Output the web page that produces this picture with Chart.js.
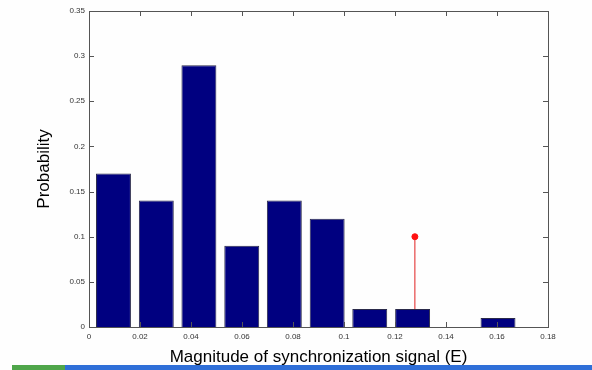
<!DOCTYPE html>
<html>
<head>
<meta charset="utf-8">
<script src="https://cdn.jsdelivr.net/npm/chart.js@4.4.1/dist/chart.umd.min.js"></script>
<style>
  html, body { margin: 0; padding: 0; background: #fefefe; overflow: hidden; }
  #wrap { position: relative; width: 592px; height: 370px; }
  #strip { position: absolute; left: 0; top: 365px; width: 592px; height: 5px; }
  #strip .g { position: absolute; left: 12px; width: 53px; top: 0; height: 5px; background: #4fa64a; }
  #strip .b { position: absolute; left: 65px; right: 0; top: 0; height: 5px; background: #2f6fd8; }
</style>
</head>
<body>
<div id="wrap">
  <canvas id="myChart" width="592" height="370"></canvas>
  <div id="strip"><div class="g"></div><div class="b"></div></div>
</div>
<script>
// histogram bins (centres) and probabilities
const binCenters = [0.0096, 0.0264, 0.0431, 0.0599, 0.0766, 0.0934, 0.1101, 0.1269, 0.1436, 0.1604];
const probabilities = [0.17, 0.14, 0.29, 0.09, 0.14, 0.12, 0.02, 0.02, 0, 0.01];
// red stem marker
const stemX = [0.1278, 0.1278];
const stemY = [0, 0.1];
// tick labels
const xTicks = [0, 0.02, 0.04, 0.06, 0.08, 0.1, 0.12, 0.14, 0.16, 0.18];
const yTicks = [0, 0.05, 0.1, 0.15, 0.2, 0.25, 0.3, 0.35];

// box around the plot with inward ticks, matlab style
const boxPlugin = {
    id: 'box',
    afterDatasetsDraw(chart) {
        let a = chart.chartArea, c = chart.ctx;
        let xs = chart.scales.x, ys = chart.scales.y;
        c.save();
        c.strokeStyle = '#555';
        c.lineWidth = 1;
        c.strokeRect(a.left + 0.5, a.top + 0.5, a.right - a.left, a.bottom - a.top);
        c.beginPath();
        xTicks.forEach(function (v) {
            let p = Math.round(xs.getPixelForValue(v)) + 0.5;
            c.moveTo(p, a.bottom); c.lineTo(p, a.bottom - 5);
            c.moveTo(p, a.top); c.lineTo(p, a.top + 5);
        });
        yTicks.forEach(function (v) {
            let p = Math.round(ys.getPixelForValue(v)) + 0.5;
            c.moveTo(a.left, p); c.lineTo(a.left + 5, p);
            c.moveTo(a.right, p); c.lineTo(a.right - 5, p);
        });
        c.stroke();
        c.restore();
    }
};

let ctx = document.getElementById("myChart");
let myChart = new Chart(ctx, {
    type: 'bar',
    data: {
        datasets: [{
            type: 'bar',
            label: 'Probability',
            data: binCenters.map(function (x, i) { return { x: x, y: probabilities[i] }; }),
            backgroundColor: '#000080',
            borderColor: '#2a2a4a',
            borderWidth: 1,
            categoryPercentage: 1,
            barPercentage: 0.82
        }, {
            type: 'line',
            label: 'E',
            data: stemX.map(function (x, i) { return { x: x, y: stemY[i] }; }),
            borderColor: '#e02020',
            borderWidth: 1,
            pointRadius: [0, 3],
            pointBackgroundColor: '#ff1010',
            pointBorderColor: '#ff1010',
            fill: false
        }]
    },
    options: {
        responsive: false,
        animation: false,
        layout: { padding: { left: 0, right: 44, top: 11, bottom: 0 } },
        plugins: { legend: { display: false }, tooltip: { enabled: false } },
        scales: {
            x: {
                type: 'linear',
                min: 0, max: 0.18,
                offset: false,
                afterFit: function (s) { s.height = 43; },
                grid: { display: false, drawTicks: false },
                border: { display: false },
                ticks: {
                    stepSize: 0.02,
                    padding: 5,
                    maxRotation: 0,
                    color: '#333',
                    font: { family: 'Arial, "Liberation Sans"', size: 8 },
                    callback: function (v) { return String(+v.toFixed(2)); }
                },
                title: {
                    display: true,
                    text: 'Magnitude of synchronization signal (E)',
                    color: '#000',
                    font: { family: 'Arial, "Liberation Sans"', size: 17 },
                    padding: { top: 0, bottom: 2 }
                }
            },
            y: {
                min: 0, max: 0.35,
                afterFit: function (s) { s.width = 89; },
                grid: { display: false, drawTicks: false },
                border: { display: false },
                ticks: {
                    stepSize: 0.05,
                    padding: 4,
                    color: '#333',
                    font: { family: 'Arial, "Liberation Sans"', size: 8 },
                    callback: function (v) { return String(+v.toFixed(2)); }
                },
                title: {
                    display: true,
                    text: 'Probability',
                    color: '#000',
                    font: { family: 'Arial, "Liberation Sans"', size: 17 },
                    padding: { top: 34, bottom: 0 }
                }
            }
        }
    },
    plugins: [boxPlugin]
});
</script>
</body>
</html>
